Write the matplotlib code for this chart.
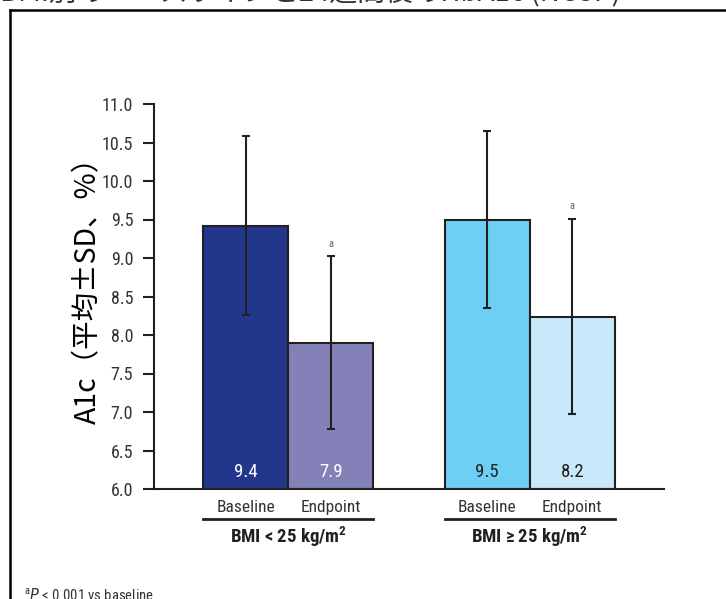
"""A1c baseline vs endpoint by BMI group, bar chart with SD error bars."""

import matplotlib

matplotlib.use("Agg")
import matplotlib.pyplot as plt
from matplotlib import font_manager
from matplotlib.lines import Line2D

# data
groups = ["BMI < 25 kg/m$^\\mathregular{2}$", "BMI \u2265 25 kg/m$^\\mathregular{2}$"]
bar_labels = ["Baseline", "Endpoint", "Baseline", "Endpoint"]
means = [9.42, 7.90, 9.50, 8.24]
sds = [1.16, 1.12, 1.15, 1.27]
value_text = ["9.4", "7.9", "9.5", "8.2"]
significant = [False, True, False, True]
yticks = [6.0, 6.5, 7.0, 7.5, 8.0, 8.5, 9.0, 9.5, 10.0, 10.5, 11.0]

colors = ["#22368c", "#8381b8", "#6dcff3", "#c8e9fa"]
value_colors = ["white", "white", "#231f20", "#231f20"]
positions = [0.0, 1.0, 2.84, 3.84]
ink = "#231f20"


def pick_font(names):
    available = {f.name for f in font_manager.fontManager.ttflist}
    for name in names:
        if name in available:
            return name
    return "DejaVu Sans"


narrow = pick_font(["Liberation Sans Narrow", "DejaVu Sans Condensed", "Roboto Condensed", "Liberation Sans"])
cjk = ["Noto Sans CJK JP", "DejaVu Sans"]

fig = plt.figure(figsize=(7.26, 5.99), dpi=100)
ax = fig.add_axes([154 / 726, 1 - 489 / 599, 510 / 726, 385 / 599])

ax.bar(positions, [m - 6.0 for m in means], bottom=6.0, width=1.0,
       color=colors, edgecolor=ink, linewidth=1.5, zorder=2)
ax.errorbar(positions, means, yerr=sds, fmt="none", ecolor=ink,
            elinewidth=1.5, capsize=3, capthick=1.5, zorder=3)

for x, m, sd, txt, tc, sig in zip(positions, means, sds, value_text, value_colors, significant):
    ax.text(x, 6.22, txt, ha="center", va="center", color=tc,
            fontsize=13.5, family=narrow, zorder=4)
    if sig:
        ax.text(x, m + sd + 0.16, "a", ha="center", va="center", color="#666666",
                fontsize=7.5, family=narrow)

ax.set_xlim(-1.08, 4.92)
ax.set_ylim(6.0, 11.0)
ax.set_yticks(yticks)
ax.set_yticklabels([f"{v:.1f}" for v in yticks], family=narrow, fontsize=13, color="#333333")
ax.set_xticks([])
ax.tick_params(axis="y", direction="out", length=8, width=1.5, color=ink, pad=7)

for side in ("top", "right"):
    ax.spines[side].set_visible(False)
for side in ("left", "bottom"):
    ax.spines[side].set_color(ink)
    ax.spines[side].set_linewidth(1.5)

ax.set_ylabel("A1c（平均±SD、%）", family=cjk, fontsize=20.5, color="black")
ax.yaxis.set_label_coords(-0.1, 0.535)

# category labels, group underline and group name
trans = ax.get_xaxis_transform()
for x, lab in zip(positions, bar_labels):
    ax.text(x, -0.047, lab, transform=trans, ha="center", va="center",
            fontsize=12.5, family=narrow, color="#333333", clip_on=False)
for i, name in enumerate(groups):
    x0 = positions[2 * i] - 0.5
    x1 = positions[2 * i + 1] + 0.5
    ax.add_line(Line2D([x0, x1], [-0.078, -0.078], transform=trans, color=ink,
                       linewidth=2, clip_on=False))
    ax.text((x0 + x1) / 2, -0.124, name, transform=trans, ha="center", va="center",
            fontsize=13.5, family=narrow, weight="bold", color=ink, clip_on=False)

# frame of the original slide (left and top edges only show)
fig.add_artist(Line2D([10 / 726, 10 / 726], [0, 1 - 10 / 599], color="black", linewidth=1.8))
fig.add_artist(Line2D([10 / 726, 1], [1 - 10 / 599, 1 - 10 / 599], color="black", linewidth=1.8))

# slide title and footnote, both cut by the crop of the original
fig.text(0.0, 1 - 8 / 599, "BMI別のベースラインと24週間後のHbA1c (NCSP)", family=cjk,
         fontsize=20, color="#333333", ha="left", va="bottom")
fig.text(24 / 726, -2 / 599, "$^\\mathregular{a}$$\\mathit{P}$ < 0.001 vs baseline",
         fontsize=10.5, family=narrow, color="#333333", ha="left", va="baseline")

fig.savefig("out.png", dpi=100)
